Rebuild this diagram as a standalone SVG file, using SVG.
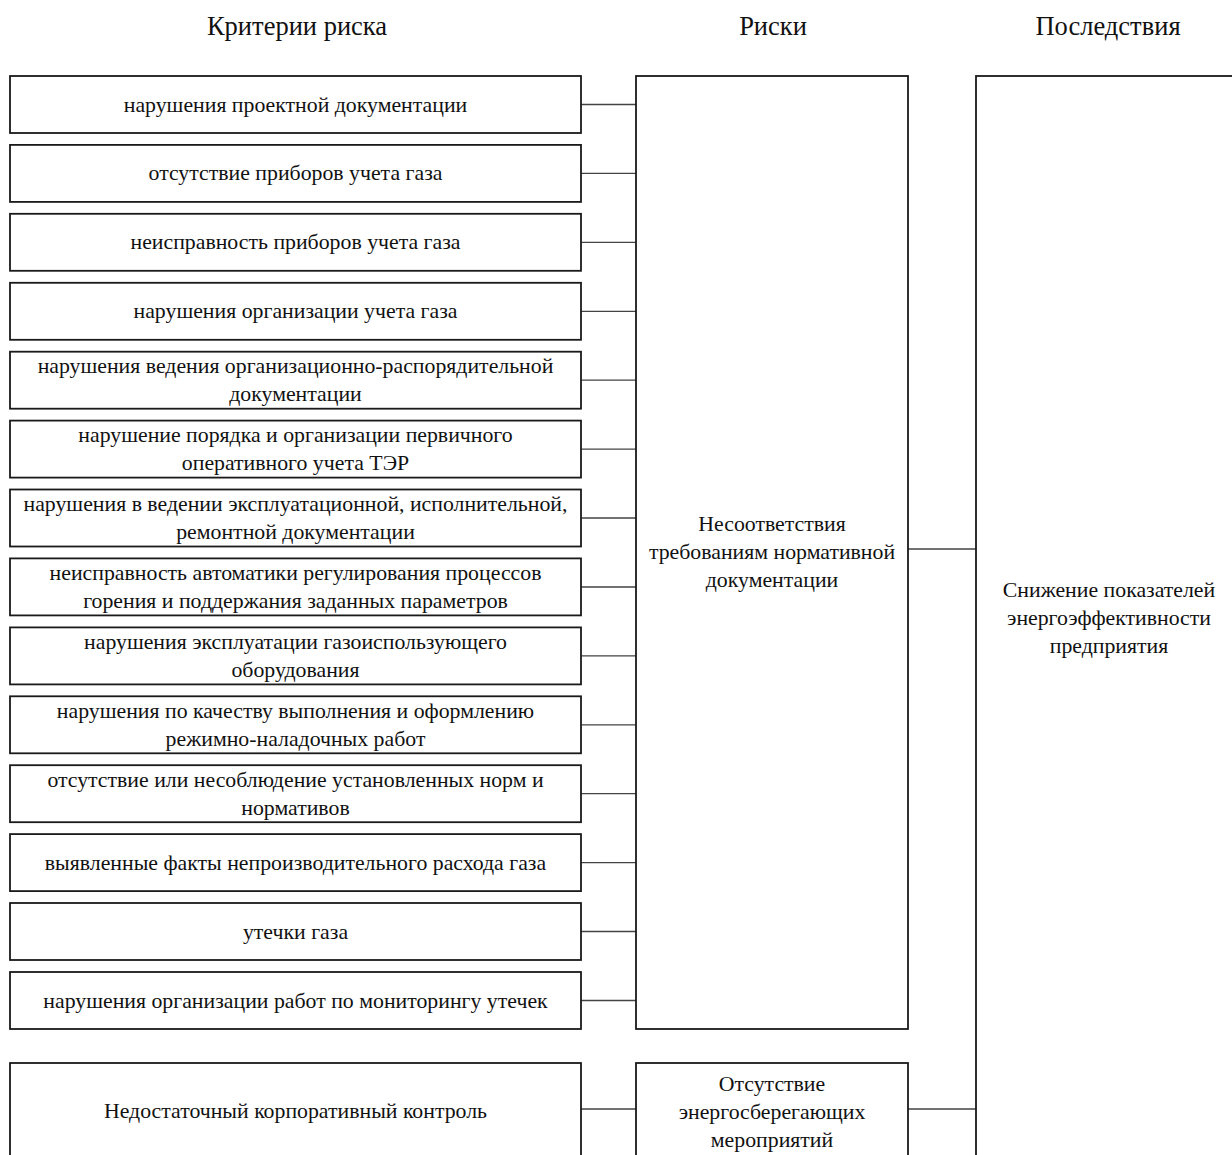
<svg xmlns="http://www.w3.org/2000/svg" width="1232" height="1155" viewBox="0 0 1232 1155">
<style>
text{font-family:"Liberation Serif","Times New Roman",serif;font-size:21.8px;fill:#111;text-anchor:middle}
.h{font-size:26.5px}
.box{fill:#fff;stroke:#1a1a1a;stroke-width:1.8}
.c{stroke:#444;stroke-width:1.3;fill:none}
</style>
<rect width="1232" height="1155" fill="#fff"/>
<g id="headers">
<text class="h" x="297" y="35">Критерии риска</text>
<text class="h" x="773" y="35">Риски</text>
<text class="h" x="1108" y="35">Последствия</text>
</g>
<g id="connectors">
<path class="c" d="M581,104.5H636M581,173.4H636M581,242.3H636M581,311.3H636M581,380.2H636M581,449.1H636M581,518H636M581,587H636M581,655.9H636M581,724.8H636M581,793.7H636M581,862.6H636M581,931.5H636M581,1000.5H636"/>
<path class="c" d="M908,549H976M581,1109H636M908,1109H976"/>
</g>
<g id="n1"><rect class="box" x="10" y="76" width="571" height="57"/><text x="295.5" y="111.5">нарушения проектной документации</text></g>
<g id="n2"><rect class="box" x="10" y="144.9" width="571" height="57"/><text x="295.5" y="180.4">отсутствие приборов учета газа</text></g>
<g id="n3"><rect class="box" x="10" y="213.8" width="571" height="57"/><text x="295.5" y="249.3">неисправность приборов учета газа</text></g>
<g id="n4"><rect class="box" x="10" y="282.8" width="571" height="57"/><text x="295.5" y="318.3">нарушения организации учета газа</text></g>
<g id="n5"><rect class="box" x="10" y="351.7" width="571" height="57"/><text x="295.5" y="373.2">нарушения ведения организационно-распорядительной</text><text x="295.5" y="401.2">документации</text></g>
<g id="n6"><rect class="box" x="10" y="420.6" width="571" height="57"/><text x="295.5" y="442.1">нарушение порядка и организации первичного</text><text x="295.5" y="470.1">оперативного учета ТЭР</text></g>
<g id="n7"><rect class="box" x="10" y="489.5" width="571" height="57"/><text x="295.5" y="511">нарушения в ведении эксплуатационной, исполнительной,</text><text x="295.5" y="539">ремонтной документации</text></g>
<g id="n8"><rect class="box" x="10" y="558.4" width="571" height="57"/><text x="295.5" y="580">неисправность автоматики регулирования процессов</text><text x="295.5" y="608">горения и поддержания заданных параметров</text></g>
<g id="n9"><rect class="box" x="10" y="627.4" width="571" height="57"/><text x="295.5" y="648.9">нарушения эксплуатации газоиспользующего</text><text x="295.5" y="676.9">оборудования</text></g>
<g id="n10"><rect class="box" x="10" y="696.3" width="571" height="57"/><text x="295.5" y="717.8">нарушения по качеству выполнения и оформлению</text><text x="295.5" y="745.8">режимно-наладочных работ</text></g>
<g id="n11"><rect class="box" x="10" y="765.2" width="571" height="57"/><text x="295.5" y="786.7">отсутствие или несоблюдение установленных норм и</text><text x="295.5" y="814.7">нормативов</text></g>
<g id="n12"><rect class="box" x="10" y="834.1" width="571" height="57"/><text x="295.5" y="869.6">выявленные факты непроизводительного расхода газа</text></g>
<g id="n13"><rect class="box" x="10" y="903" width="571" height="57"/><text x="295.5" y="938.5">утечки газа</text></g>
<g id="n14"><rect class="box" x="10" y="972" width="571" height="57"/><text x="295.5" y="1007.5">нарушения организации работ по мониторингу утечек</text></g>
<g id="risk1"><rect class="box" x="636" y="76" width="272" height="953"/><text x="772" y="531">Несоответствия</text><text x="772" y="559">требованиям нормативной</text><text x="772" y="587">документации</text></g>
<g id="consequence"><rect class="box" x="976" y="76" width="270" height="1090"/><text x="1109" y="597">Снижение показателей</text><text x="1109" y="625">энергоэффективности</text><text x="1109" y="653">предприятия</text></g>
<g id="n15"><rect class="box" x="10" y="1063" width="571" height="100"/><text x="295.5" y="1118">Недостаточный корпоративный контроль</text></g>
<g id="risk2"><rect class="box" x="636" y="1063" width="272" height="100"/><text x="772" y="1091">Отсутствие</text><text x="772" y="1119">энергосберегающих</text><text x="772" y="1147">мероприятий</text></g>
</svg>
